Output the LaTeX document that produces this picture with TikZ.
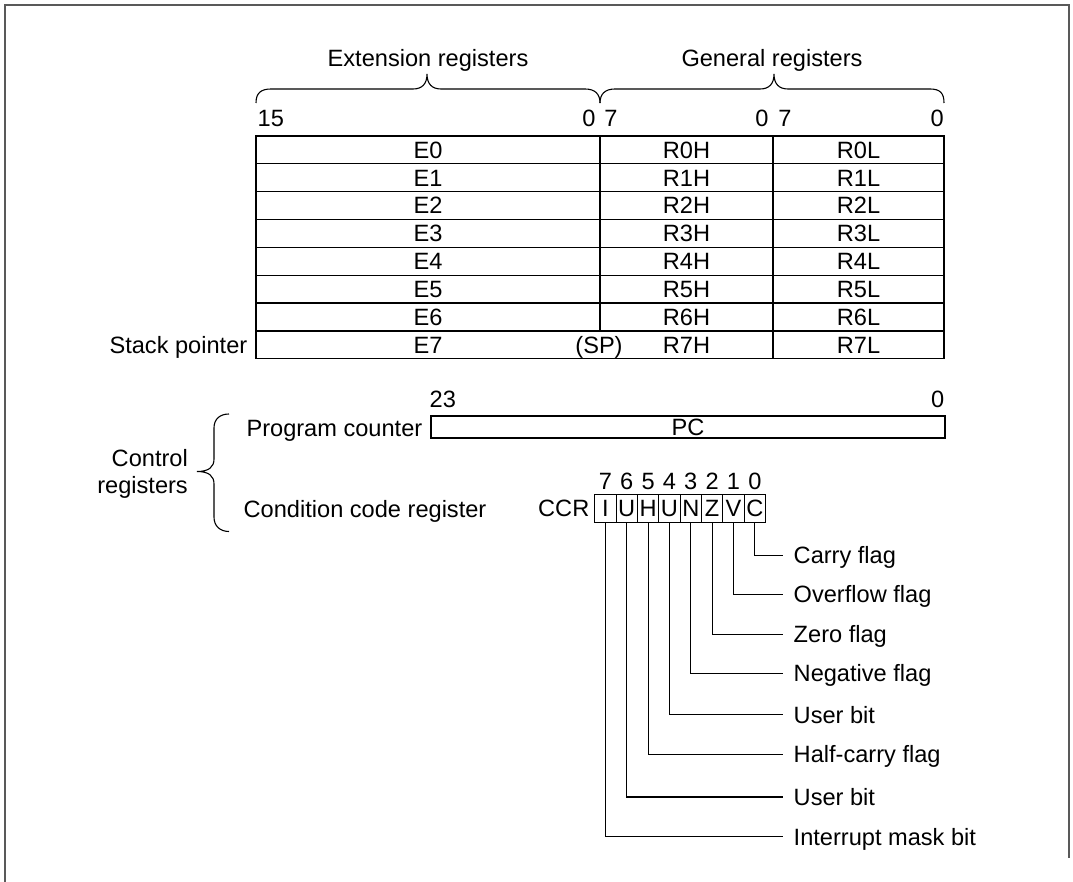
\documentclass[tikz,border=0pt]{standalone}
\usepackage{fontspec}
\setmainfont{Liberation Sans}
\begin{document}
\begin{tikzpicture}[x=1pt,y=-1pt,
  every node/.style={font=\fontsize{23.6pt}{28pt}\selectfont, inner sep=0pt,
    text height=16.8pt, text depth=0pt},
  grid/.style={line width=1.3pt},
  lead/.style={line width=1.1pt},
  brace/.style={line width=1.1pt},
  bitbox/.style={draw, line width=1.1pt, minimum width=21.35pt, minimum height=28pt},
  regbox/.style={draw, line width=1.1pt},
  flag/.style={anchor=west, inner xsep=11pt}
]
\useasboundingbox (0,0) rectangle (1073,882);

% outer frame
\draw[black!65, line width=1.3pt] (5,882) -- (5,5) -- (1069,5) -- (1069,858);

% group headings and their braces
\node (exthead) at (428,58.5) {Extension registers};
\node (genhead) at (772,58.5) {General registers};
\draw[brace] (256,103) .. controls (256,93) and (261,89) .. (271,89) -- (413,89)
  .. controls (422,89) and (427,84) .. (427,74)
  .. controls (427,84) and (432,89) .. (441,89) -- (585,89)
  .. controls (595,89) and (600,94) .. (600,103);
\draw[brace] (600,103) .. controls (600,94) and (605,89) .. (615,89) -- (760,89)
  .. controls (769,89) and (774,84) .. (774,74)
  .. controls (774,84) and (779,89) .. (788,89) -- (930,89)
  .. controls (940,89) and (944,93) .. (944,103);

% bit positions above the register file
\node[anchor=west] (b15) at (257.5,118.6) {15};
\node (b0e) at (589,118.6) {0};
\node (b7h) at (611,118.6) {7};
\node (b0h) at (762,118.6) {0};
\node (b7l) at (785,118.6) {7};
\node[anchor=east] (b0l) at (944,118.6) {0};

% register file grid
\draw[grid] (256,136) rectangle (944,358.8);
\foreach \k in {1,...,7}
  \draw[grid] (256,{136+27.85*\k}) -- (944,{136+27.85*\k});
\draw[grid] (773,136) -- (773,358.8);
\draw[grid] (600,136) -- (600,330.95);

\foreach \k in {0,...,7} {
  \node (e\k) at (428,{149.9+27.85*\k}) {E\k};
  \node (rh\k) at (686.5,{149.9+27.85*\k}) {R\k H};
  \node (rl\k) at (858.5,{149.9+27.85*\k}) {R\k L};
}
\node (sp) at (599,344.9) {(SP)};
\node[anchor=east] (stackptr) at (247.5,344.9) {Stack pointer};

% program counter
\node[anchor=west] (pc23) at (429.5,398.7) {23};
\node[anchor=east] (pc0) at (944.5,398.7) {0};
\node[regbox, minimum width=514pt, minimum height=22pt] (pc) at (688,427) {PC};
\node[anchor=east] (pclabel) at (422.5,428) {Program counter};

% control registers brace
\draw[brace] (229,414) .. controls (220,414) and (214,419) .. (214,428) -- (214,459)
  .. controls (214,467) and (209,471.5) .. (197,471.5)
  .. controls (209,471.5) and (214,476) .. (214,484) -- (214,517)
  .. controls (214,526) and (220,531.5) .. (229,531.5);
\node[anchor=east] (ctl1) at (188,458) {Control};
\node[anchor=east] (ctl2) at (188,485) {registers};

% condition code register
\node[anchor=west] (ccrlabel) at (243.5,509) {Condition code register};
\node[anchor=east] (ccr) at (589.5,508.3) {CCR};
\foreach \t [count=\i from 0] in {I,U,H,U,N,Z,V,C} {
  \pgfmathtruncatemacro\bn{7-\i}
  \node[bitbox] (bit\bn) at ({605.4+21.35*\i},508.3) {\t};
  \node (num\bn) at ({605.4+21.35*\i},481.5) {\bn};
}

% flag names with leader lines
\foreach \b/\y/\t in {0/555.5/Carry flag, 1/594.3/Overflow flag, 2/634.3/Zero flag,
    3/673.2/Negative flag, 4/714.7/User bit, 5/754.3/Half-carry flag,
    6/797/User bit, 7/836.7/Interrupt mask bit} {
  \node[flag] (flag\b) at (782.5,\y) {\t};
  \draw[lead] (bit\b.south) |- (flag\b.west);
}
\end{tikzpicture}
\end{document}
